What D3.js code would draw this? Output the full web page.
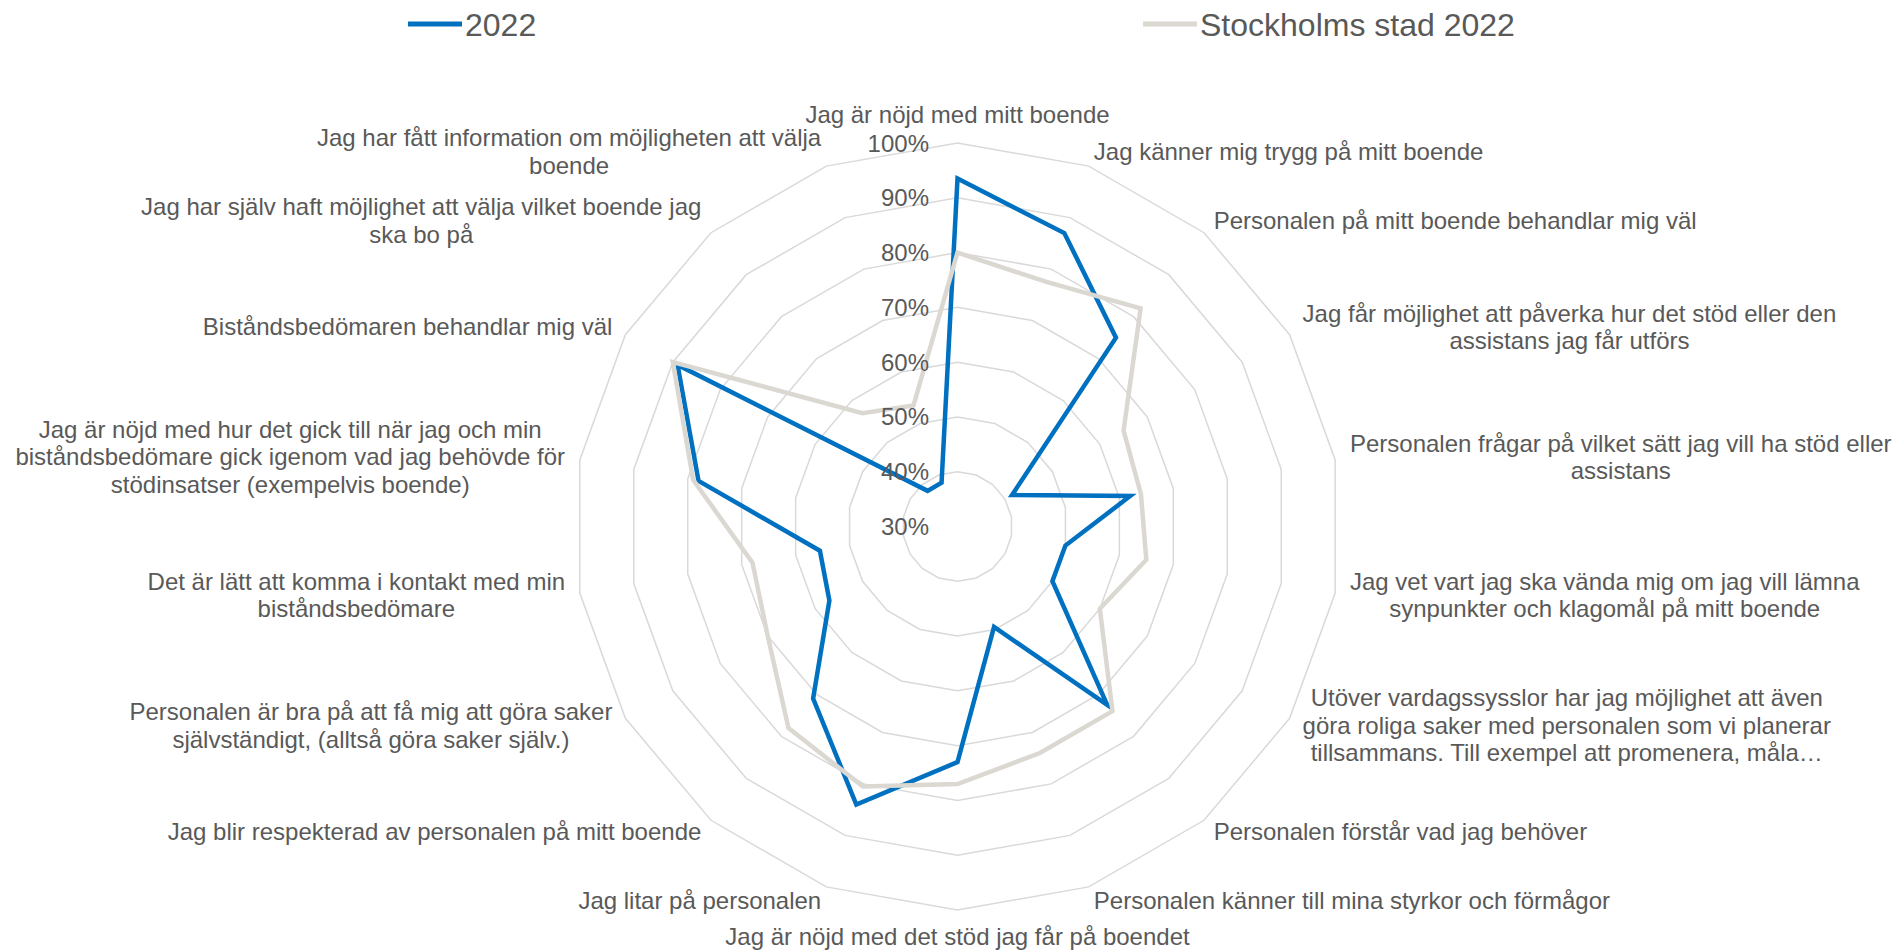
<!DOCTYPE html>
<html>
<head>
<meta charset="utf-8">
<script src="https://cdn.jsdelivr.net/npm/d3@7"></script>
<style>
body { margin: 0; background: #ffffff; }
svg text { font-family: "Liberation Sans", Arial, sans-serif; fill: #595959; }
</style>
</head>
<body>
<div id="chart"></div>
<script>
//categories, clockwise from the top ("\n" = line break as in the original)
var categories = [
	"Jag är nöjd med mitt boende",
	"Jag känner mig trygg på mitt boende",
	"Personalen på mitt boende behandlar mig väl",
	"Jag får möjlighet att påverka hur det stöd eller den\nassistans jag får utförs",
	"Personalen frågar på vilket sätt jag vill ha stöd eller\nassistans",
	"Jag vet vart jag ska vända mig om jag vill lämna\nsynpunkter och klagomål på mitt boende",
	"Utöver vardagssysslor har jag möjlighet att även\ngöra roliga saker med personalen som vi planerar\ntillsammans. Till exempel att promenera, måla…",
	"Personalen förstår vad jag behöver",
	"Personalen känner till mina styrkor och förmågor",
	"Jag är nöjd med det stöd jag får på boendet",
	"Jag litar på personalen",
	"Jag blir respekterad av personalen på mitt boende",
	"Personalen är bra på att få mig att göra saker\nsjälvständigt, (alltså göra saker själv.)",
	"Det är lätt att komma i kontakt med min\nbiståndsbedömare",
	"Jag är nöjd med hur det gick till när jag och min\nbiståndsbedömare gick igenom vad jag behövde för\nstödinsatser (exempelvis boende)",
	"Biståndsbedömaren behandlar mig väl",
	"Jag har själv haft möjlighet att välja vilket boende jag\nska bo på",
	"Jag har fått information om möjligheten att välja\nboende"
];

//series values in percent
var values2022 = [93.5, 87, 75, 41.5, 62, 50, 50, 72.5, 49.5, 73, 84, 71, 57, 55.5, 78, 89, 38.5, 38.5];
var valuesStockholm = [80, 77.5, 82, 65, 64, 65, 60, 74, 74, 77, 80.5, 78, 70, 68, 79, 90, 57, 53.5];

var seriesNames = ["2022", "Stockholms stad 2022"];
var seriesColors = ["#0070c0", "#dbd8d2"];

//radial axis ticks
var tickValues = [30, 40, 50, 60, 70, 80, 90, 100];

//svg dimensions
var width = 1895;
var height = 950;
var cx = 957.5;
var cy = 526.5;
var R = 383.5;
var fontSize = 24;
var lineHeight = 27.5;

var svg = d3.select("#chart").append("svg")
	.attr("width", width)
	.attr("height", height);

var n = categories.length;
var angle = function(i){ return i * 2 * Math.PI / n; };

var r = d3.scaleLinear()
	.domain([30, 100])
	.range([0, R]);

var g = svg.append("g")
	.attr("transform", "translate(" + cx + "," + cy + ")");

//grid rings (polygons)
var ringLine = d3.lineRadial()
	.angle(function(d, i){ return angle(i); })
	.radius(function(d){ return r(d); })
	.curve(d3.curveLinearClosed);

g.selectAll(".ring")
	.data(tickValues.slice(1))
	.enter()
	.append("path")
	.attr("class", "ring")
	.attr("d", function(t){ return ringLine(d3.range(n).map(function(){ return t; })); })
	.attr("fill", "none")
	.attr("stroke", "#d9d9d9")
	.attr("stroke-width", 1.5);

//series, stockholm drawn last (on top)
var series = [values2022, valuesStockholm];
g.selectAll(".series")
	.data(series)
	.enter()
	.append("path")
	.attr("class", "series")
	.attr("d", function(d){ return ringLine(d); })
	.attr("fill", "none")
	.attr("stroke", function(d, i){ return seriesColors[i]; })
	.attr("stroke-width", 4.5)
	.attr("stroke-linejoin", "miter");

//tick labels
g.selectAll(".tick")
	.data(tickValues)
	.enter()
	.append("text")
	.attr("class", "tick")
	.attr("x", -28.5)
	.attr("y", function(t){ return -r(t) + 8.5; })
	.attr("text-anchor", "end")
	.style("font-size", fontSize + "px")
	.text(function(t){ return t + "%"; });

//category labels
categories.forEach(function(label, i){
	var a = angle(i);
	var s = Math.sin(a), c = Math.cos(a);
	var px = (R + 15) * s;
	var py = -(R + 15) * c;
	var lines = label.split("\n");

	var t = g.append("text")
		.attr("class", "cat")
		.attr("text-anchor", "middle")
		.style("font-size", fontSize + "px");

	var spans = t.selectAll("tspan")
		.data(lines)
		.enter()
		.append("tspan")
		.text(function(d){ return d; });

	//widest line sets the block width
	var maxW = 0;
	spans.each(function(){
		maxW = Math.max(maxW, this.getComputedTextLength());
	});

	var x;
	if (Math.abs(s) < 0.01) x = px;
	else if (s > 0) x = px + maxW / 2;
	else x = px - maxW / 2;

	spans.attr("x", x)
		.attr("y", function(d, k){
			if (Math.abs(s) < 0.01 && c > 0){
				return py - 5 - (lines.length - 1 - k) * lineHeight;
			}
			if (Math.abs(s) < 0.01 && c < 0){
				return py + 20 + k * lineHeight;
			}
			return py + (k - (lines.length - 1) / 2) * lineHeight + 8;
		});
});

//legend
var legendX = [408, 1143];
var legend = svg.selectAll(".legend")
	.data(seriesNames)
	.enter()
	.append("g")
	.attr("class", "legend")
	.attr("transform", function(d, i){ return "translate(" + legendX[i] + ",24)"; });

legend.append("line")
	.attr("x1", 0)
	.attr("x2", 54)
	.attr("y1", 0)
	.attr("y2", 0)
	.attr("stroke", function(d, i){ return seriesColors[i]; })
	.attr("stroke-width", 5);

legend.append("text")
	.attr("x", 57)
	.attr("y", 12)
	.style("font-size", "32px")
	.text(function(d){ return d; });
</script>
</body>
</html>
